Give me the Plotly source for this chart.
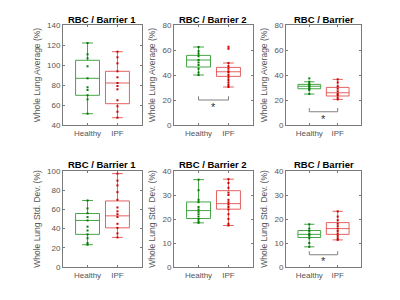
import plotly.graph_objects as go

# ---------------- data ----------------
titles = ["RBC / Barrier 1", "RBC / Barrier 2", "RBC / Barrier"]
groups = ["Healthy", "IPF"]
row_ylabels = ["Whole Lung Average (%)", "Whole Lung Std. Dev. (%)"]

# points (row 1 = average, row 2 = std dev), one list per panel
healthy_avg = [
    [122, 110.7, 106.7, 98.7, 86.7, 77.7, 75, 69.7, 65.7, 51.3],
    [62.4, 59, 57, 55, 52, 50, 48, 45, 42, 40],
    [37.3, 34.6, 33, 32, 31, 30, 29, 28, 24.8],
]
ipf_avg = [
    [113.3, 107.7, 101.7, 93.7, 87.7, 82, 79, 75.7, 64.7, 58.7, 53.3, 47.3],
    [62.6, 61, 49.6, 47, 45, 43, 42, 40, 38, 36, 34, 32, 30.4],
    [36.5, 34, 31, 29, 27, 25, 24, 22, 20.5],
]
healthy_sd = [
    [69.3, 61, 56, 52, 48.5, 42, 38, 34, 30, 25, 23.2],
    [36.4, 32, 28, 27, 25, 24, 23, 22, 21, 20, 19, 18.4],
    [17.8, 16, 15, 14, 13.5, 13, 12, 10, 8.4],
]
ipf_sd = [
    [97.3, 90, 85, 78, 70, 62, 58, 55, 52, 45, 40.8, 35, 30.8],
    [36.6, 35, 33, 31, 30, 28, 27, 26, 25, 24, 22, 20, 18, 17.3],
    [23.2, 21, 19.5, 18, 17, 16, 15, 14, 13, 12, 11.3],
]

# box statistics per panel: [lower whisker, q1, median, q3, upper whisker]
healthy_avg_stats = [
    [51.3, 69.7, 86.7, 104.7, 122],
    [40, 46.4, 52, 55.7, 62.4],
    [24.8, 29, 31, 32.5, 34.6],
]
ipf_avg_stats = [
    [47.3, 61.3, 82, 93.7, 113.3],
    [30.4, 38.9, 42.6, 46.1, 49.6],
    [20.5, 23.2, 25.8, 30.1, 36.5],
]
healthy_sd_stats = [
    [23.2, 34, 48.5, 55.7, 69.3],
    [18.4, 20.2, 23.5, 27.1, 36.4],
    [8.4, 12.3, 13.6, 15.2, 17.8],
]
ipf_sd_stats = [
    [30.8, 40.8, 53.3, 68.8, 97.3],
    [17.3, 24.1, 26.4, 31.8, 36.6],
    [11.3, 13.6, 16, 18.5, 23.2],
]

# y ranges / ticks
avg_ranges = [[40, 140], [0, 80], [0, 80]]
sd_ranges = [[0, 100], [0, 40], [0, 40]]
avg_dticks = [20, 20, 20]
sd_dticks = [20, 10, 10]

# significance brackets per panel column: (base y, top y, star y)
sig_avg = {1: (20, 23, 14.6), 2: (10.6, 13.6, 5)}
sig_sd = {2: (5.1, 6.6, 2.5)}

# ---------------- layout ----------------
W, H = 400, 300
xdoms = [(63, 142), (174, 253), (286, 361)]
ydoms = [(25, 125), (171, 267)]
title_y = [19, 164]

GREEN_BOX = "rgb(70,165,70)"
GREEN_PT = "rgb(0,125,0)"
RED_BOX = "rgba(225,70,70,0.85)"
RED_PT = "rgb(205,0,0)"
AXC = "#7a7a7a"
TXT = "#555555"
FONT = "Liberation Sans, Arial, sans-serif"

fig = go.Figure()
layout = dict(
    template="none",
    width=W, height=H, margin=dict(l=0, r=0, t=0, b=0, pad=0),
    paper_bgcolor="white", plot_bgcolor="white", showlegend=False,
    font=dict(family=FONT, size=8, color=TXT),
)
annotations = []

rows = [
    (healthy_avg, ipf_avg, healthy_avg_stats, ipf_avg_stats, avg_ranges, avg_dticks, sig_avg),
    (healthy_sd, ipf_sd, healthy_sd_stats, ipf_sd_stats, sd_ranges, sd_dticks, sig_sd),
]

k = 0
for r, (hp, ip, hs, is_, rngs, dts, sig) in enumerate(rows):
    for c in range(3):
        k += 1
        xa = "x" if k == 1 else f"x{k}"
        ya = "y" if k == 1 else f"y{k}"
        xkey = "xaxis" if k == 1 else f"xaxis{k}"
        ykey = "yaxis" if k == 1 else f"yaxis{k}"
        for gi, (pts, st, bc, pc) in enumerate([(hp[c], hs[c], GREEN_BOX, GREEN_PT),
                                                 (ip[c], is_[c], RED_BOX, RED_PT)]):
            pos = gi + 1
            fig.add_trace(go.Box(
                x=[pos], lowerfence=[st[0]], q1=[st[1]], median=[st[2]], q3=[st[3]],
                upperfence=[st[4]], width=0.8, whiskerwidth=0.45,
                fillcolor="rgba(0,0,0,0)", line=dict(color=bc, width=1),
                boxpoints=False, xaxis=xa, yaxis=ya, hoverinfo="skip",
            ))
            fig.add_trace(go.Scatter(
                x=[pos] * len(pts), y=pts, mode="markers",
                marker=dict(symbol="square", size=2, color=pc, line=dict(width=0)),
                xaxis=xa, yaxis=ya, hoverinfo="skip",
            ))
        if c in sig:
            b, t, s = sig[c]
            fig.add_trace(go.Scatter(
                x=[1, 1, 2, 2], y=[t, b, b, t], mode="lines",
                line=dict(color="#808080", width=1), xaxis=xa, yaxis=ya, hoverinfo="skip",
            ))
            annotations.append(dict(x=1.5, y=s, xref=xa, yref=ya, text="*", showarrow=False,
                                    xanchor="center", yanchor="middle",
                                    font=dict(size=11, color="#333333")))
        x0, x1 = xdoms[c]
        y0, y1 = ydoms[r]
        layout[xkey] = dict(
            domain=[x0 / W, x1 / W], range=[0.18, 2.82], anchor=ya, automargin=False,
            tickvals=[1, 2], ticktext=groups, ticks="inside", ticklen=2,
            tickcolor=AXC, showline=True, linecolor=AXC, linewidth=1, mirror="ticks",
            showgrid=False, zeroline=False, tickfont=dict(size=8, color=TXT),
        )
        layout[ykey] = dict(
            domain=[1 - y1 / H, 1 - y0 / H], range=rngs[c], dtick=dts[c], anchor=xa,
            automargin=False,
            ticks="inside", ticklen=2, tickcolor=AXC, showline=True, linecolor=AXC,
            linewidth=1, mirror="ticks", showgrid=False, zeroline=False,
            tickfont=dict(size=8, color=TXT),
            title=dict(text=row_ylabels[r], font=dict(size=8.5, color=TXT), standoff=5),
        )
        annotations.append(dict(
            x=(x0 + x1) / 2 / W, y=1 - title_y[r] / H, xref="paper", yref="paper",
            text=f"<b>{titles[c]}</b>", showarrow=False, xanchor="center", yanchor="middle",
            font=dict(size=9.5, color="black"),
        ))

layout["annotations"] = annotations
fig.update_layout(**layout)
fig.write_html("out.html", config={"displayModeBar": False},
               post_script="document.body.style.margin='0';")
